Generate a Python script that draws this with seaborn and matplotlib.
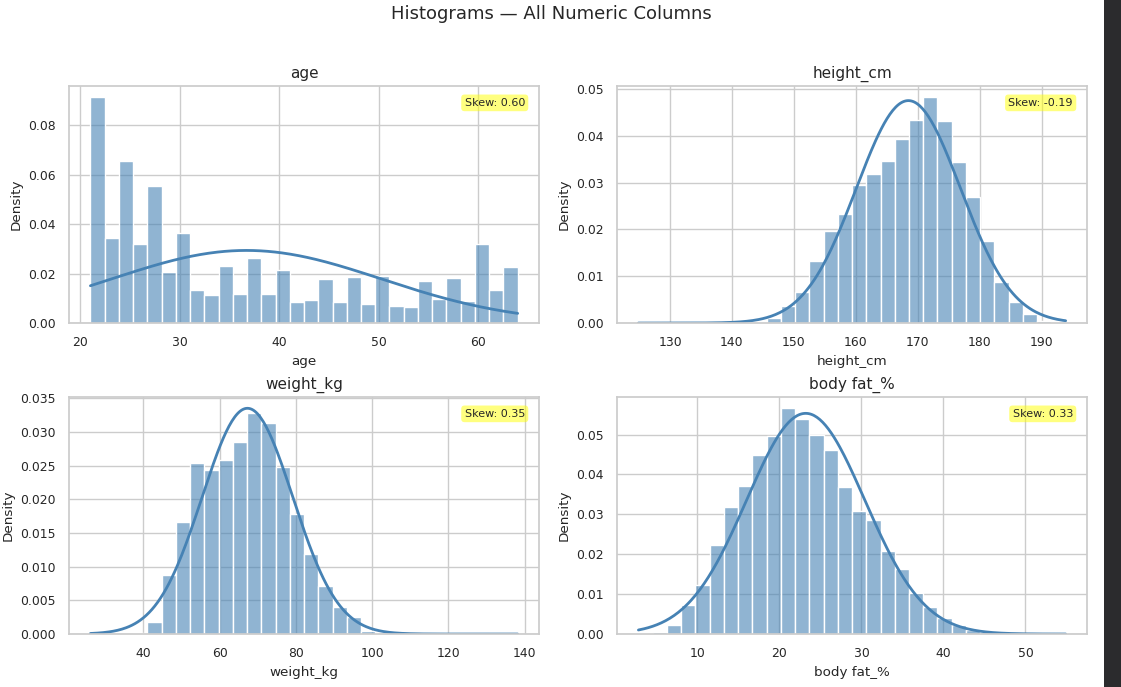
import numpy as np
import matplotlib
matplotlib.use("Agg")
import matplotlib.pyplot as plt
from matplotlib.patches import Rectangle
import seaborn as sns

# ---------------- data ----------------
columns = ["age", "height_cm", "weight_kg", "body fat_%"]
n_bins = 30

age_range = (21.0, 64.0)
age_density = [0.0912, 0.0344, 0.0656, 0.0321, 0.0554, 0.0208, 0.0363, 0.0135, 0.0113, 0.0230,
               0.0118, 0.0263, 0.0118, 0.0216, 0.0087, 0.0093, 0.0178, 0.0087, 0.0185, 0.0076,
               0.0190, 0.0067, 0.0064, 0.0169, 0.0097, 0.0181, 0.0091, 0.0320, 0.0133, 0.0227]

height_range = (124.9, 193.9)
height_density = [0.0002, 0.0000, 0.0000, 0.0000, 0.0000, 0.0000, 0.0000, 0.0001, 0.0002, 0.0010,
                  0.0036, 0.0066, 0.0133, 0.0197, 0.0232, 0.0295, 0.0319, 0.0347, 0.0394, 0.0434,
                  0.0482, 0.0431, 0.0343, 0.0270, 0.0175, 0.0088, 0.0046, 0.0019, 0.0005, 0.0002]

weight_range = (26.1, 138.2)
weight_density = [0.0001, 0.0000, 0.0000, 0.0002, 0.0018, 0.0088, 0.0167, 0.0254, 0.0243, 0.0259,
                  0.0285, 0.0328, 0.0313, 0.0248, 0.0178, 0.0119, 0.0072, 0.0040, 0.0026, 0.0004,
                  0.0002, 0.0001, 0.0001, 0.0001, 0.0001, 0.0001, 0.0000, 0.0001, 0.0000, 0.0001]

bodyfat_range = (2.8, 54.9)
bodyfat_density = [0.0002, 0.0006, 0.0022, 0.0074, 0.0123, 0.0223, 0.0319, 0.0370, 0.0450, 0.0496,
                   0.0566, 0.0538, 0.0499, 0.0461, 0.0368, 0.0309, 0.0286, 0.0208, 0.0163, 0.0104,
                   0.0068, 0.0039, 0.0022, 0.0009, 0.0004, 0.0002, 0.0002, 0.0001, 0.0001, 0.0001]

# fitted normal curve parameters (mean, std) per column
fit_mean = [36.7, 168.5, 67.3, 23.2]
fit_std = [13.6, 8.40, 11.9, 7.21]
skew_values = [0.60, -0.19, 0.35, 0.33]

ranges = [age_range, height_range, weight_range, bodyfat_range]
densities = [age_density, height_density, weight_density, bodyfat_density]

# ---------------- style ----------------
sns.set_theme(style="whitegrid")
plt.rcParams["font.family"] = ["DejaVu Sans"]
plt.rcParams["xtick.labelsize"] = 8.9
plt.rcParams["ytick.labelsize"] = 8.9
plt.rcParams["axes.labelsize"] = 9.7
plt.rcParams["axes.titlesize"] = 11
plt.rcParams["text.color"] = "#262626"

fig, axes = plt.subplots(2, 2, figsize=(11.21, 6.87), dpi=100)
fig.subplots_adjust(left=0.0616, right=0.9697, top=0.8748, bottom=0.0771,
                    wspace=0.166, hspace=0.312)

for ax, col, rng, dens, mu, sd, sk in zip(axes.flat, columns, ranges, densities,
                                          fit_mean, fit_std, skew_values):
    edges = np.linspace(rng[0], rng[1], n_bins + 1)
    centers = (edges[:-1] + edges[1:]) / 2
    sns.histplot(x=centers, weights=dens, bins=n_bins, binrange=rng, stat="count",
                 color="steelblue", alpha=0.6, edgecolor="white", linewidth=1, ax=ax)
    xs = np.linspace(rng[0], rng[1], 300)
    ys = np.exp(-0.5 * ((xs - mu) / sd) ** 2) / (sd * np.sqrt(2 * np.pi))
    sns.lineplot(x=xs, y=ys, color="steelblue", linewidth=2, ax=ax)
    ax.set_title(col)
    ax.set_xlabel(col)
    ax.set_ylabel("Density")
    ax.text(0.97, 0.95, f"Skew: {sk:.2f}", transform=ax.transAxes, ha="right", va="top",
            fontsize=8, bbox=dict(boxstyle="round,pad=0.3", facecolor="yellow", alpha=0.5,
                                  edgecolor="none"))

fig.suptitle("Histograms — All Numeric Columns", x=0.492, y=0.98, fontsize=13, va="center")

# dark strip at right edge of the screenshot
fig.patches.append(Rectangle((1104 / 1121, 0), 1 - 1104 / 1121, 1, transform=fig.transFigure,
                             facecolor="#2b2b2d", edgecolor="none", zorder=0))

fig.savefig("out.png", dpi=100)
